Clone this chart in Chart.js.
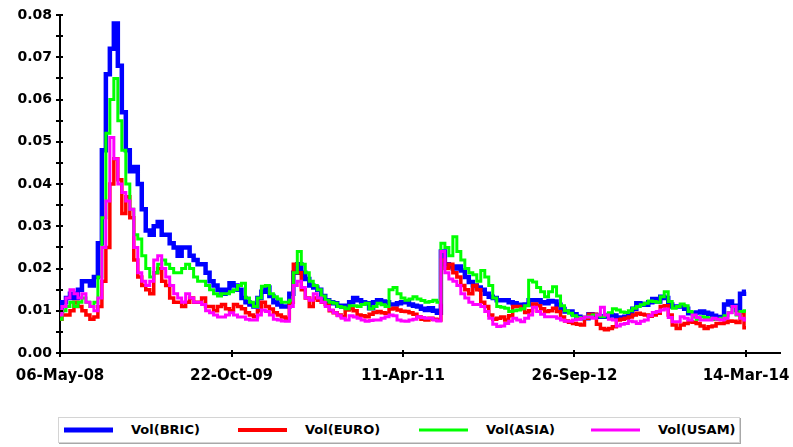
<!DOCTYPE html>
<html lang="en">
<head>
  <meta charset="UTF-8" />
  <title>Volatility - BRIC / EURO / ASIA / USAM</title>
  <script src="https://cdn.jsdelivr.net/npm/chart.js"></script>
  <style>
    body { margin: 0; background: #fff; }
    .chart-box { position: absolute; left: 0; top: 0; width: 793px; height: 400px; }
    #legend {
      position: absolute; left: 58px; top: 417px; width: 680px; height: 24px;
      border: 1px solid #d4d4d4; box-shadow: 1px 1px 0 #a8a8a8; background: #fff;
      font: bold 13px "DejaVu Sans", sans-serif; color: #000;
    }
    #legend .item { position: absolute; top: 0; height: 24px; line-height: 24px; white-space: nowrap; }
    #legend .swatch { position: absolute; left: 0; width: 49px; top: 50%; transform: translateY(-50%); }
    #legend .label { position: absolute; left: 67px; top: 0; }
  </style>
</head>
<body>

  <div class="chart-box">
    <canvas id="volChart"></canvas>
  </div>
  <div id="legend"></div>

  <script>
    // values, one point every ~4 px (≈ 12 days)
    const tickDates = ["06-May-08", "22-Oct-09", "11-Apr-11", "26-Sep-12", "14-Mar-14"];
    const seriesNames = ["Vol(BRIC)", "Vol(EURO)", "Vol(ASIA)", "Vol(USAM)"];

    const volBric = [
      0.010, 0.012, 0.013, 0.014, 0.013, 0.015, 0.017, 0.017, 0.016, 0.018,
      0.026, 0.048, 0.066, 0.072, 0.078, 0.068, 0.057, 0.048, 0.043, 0.044,
      0.040, 0.034, 0.029, 0.028, 0.030, 0.031, 0.028, 0.028, 0.026, 0.025,
      0.023, 0.025, 0.025, 0.023, 0.022, 0.021,
      0.021, 0.019, 0.017, 0.016, 0.015, 0.014, 0.015, 0.0165,
      0.016, 0.015, 0.013, 0.012, 0.0115, 0.011, 0.013, 0.0145,
      0.0155, 0.0135, 0.012, 0.0115, 0.011, 0.011, 0.014, 0.019,
      0.021, 0.019, 0.0175, 0.016, 0.0155, 0.015, 0.0135, 0.0125, 0.012, 0.0118, 0.0112, 0.011,
      0.0112, 0.012, 0.013, 0.0125, 0.012, 0.0118, 0.0106, 0.012, 0.0125, 0.0122, 0.012, 0.0115,
      0.0115, 0.0118, 0.012, 0.012, 0.0115, 0.0112, 0.011, 0.0105, 0.0102, 0.0106, 0.010, 0.0095,
      0.024, 0.021, 0.0205, 0.020, 0.0205, 0.0195, 0.018, 0.0168, 0.016, 0.0155, 0.015, 0.014,
      0.0133, 0.013, 0.0125, 0.0125, 0.0125, 0.012, 0.0118, 0.0114, 0.0114, 0.0115, 0.0125, 0.0125,
      0.0125, 0.012, 0.0118, 0.0123, 0.0122, 0.0114, 0.0104, 0.0098, 0.0098, 0.0092, 0.0086, 0.0082,
      0.0082, 0.0092, 0.009, 0.0086, 0.0086, 0.0087, 0.009, 0.0089,
      0.0082, 0.0084, 0.0086, 0.009, 0.0105, 0.0118, 0.0116, 0.0114, 0.012, 0.0128, 0.0122, 0.0133,
      0.013, 0.0115, 0.011, 0.011, 0.011, 0.0105, 0.0094, 0.0094, 0.0096, 0.0098, 0.0095, 0.0093,
      0.0088, 0.0085, 0.0082, 0.0115, 0.0122, 0.0112, 0.0102, 0.014, 0.0145
    ];

    const volEuro = [
      0.008, 0.009, 0.009, 0.010, 0.012, 0.011, 0.010, 0.009, 0.008, 0.0085,
      0.011, 0.017, 0.025, 0.040, 0.046, 0.041, 0.033, 0.037, 0.032, 0.022,
      0.018, 0.016, 0.015, 0.014, 0.019, 0.020, 0.017, 0.016, 0.013, 0.012,
      0.012, 0.011, 0.012, 0.013, 0.012, 0.012,
      0.013, 0.011, 0.011, 0.010, 0.011, 0.0115, 0.0105, 0.010,
      0.0115, 0.011, 0.0105, 0.0095, 0.009, 0.0086, 0.010, 0.012,
      0.011, 0.0104, 0.0095, 0.009, 0.0085, 0.0082, 0.012, 0.021,
      0.019, 0.015, 0.013, 0.011, 0.013, 0.0125, 0.012, 0.0115, 0.010, 0.0095, 0.009, 0.0086,
      0.0102, 0.0105, 0.010, 0.009, 0.0088, 0.0086, 0.0092, 0.0096, 0.0098, 0.0095, 0.0094, 0.0104,
      0.0106, 0.0102, 0.0099, 0.0098, 0.0095, 0.0092, 0.0086, 0.008, 0.0078, 0.0082, 0.008, 0.0078,
      0.022, 0.020, 0.021, 0.019, 0.018, 0.016, 0.015, 0.014, 0.016, 0.015, 0.012, 0.011,
      0.009, 0.008, 0.0082, 0.0085, 0.0078, 0.0088, 0.011, 0.011, 0.0105, 0.0096, 0.010, 0.0116,
      0.0112, 0.0105, 0.0098, 0.010, 0.0106, 0.0098, 0.0085, 0.0076, 0.0073, 0.007, 0.0068, 0.0066,
      0.0082, 0.0092, 0.0092, 0.0068, 0.0058, 0.0055, 0.0058, 0.0062,
      0.0078, 0.008, 0.0082, 0.0085, 0.009, 0.0094, 0.0092, 0.009, 0.0087, 0.009, 0.0094, 0.011,
      0.0112, 0.009, 0.0066, 0.0058, 0.0066, 0.007, 0.0074, 0.0073, 0.007, 0.0064, 0.0058, 0.0062,
      0.0064, 0.007, 0.007, 0.0072, 0.0076, 0.0075, 0.0072, 0.0095, 0.006
    ];

    const volAsia = [
      0.008, 0.010, 0.011, 0.012, 0.011, 0.012, 0.013, 0.012, 0.011, 0.012,
      0.018, 0.032, 0.052, 0.060, 0.065, 0.055, 0.048, 0.040, 0.034, 0.028,
      0.027, 0.023, 0.020, 0.018, 0.019, 0.021, 0.022, 0.021, 0.020, 0.019,
      0.019, 0.020, 0.021, 0.020, 0.018, 0.017,
      0.017, 0.016, 0.015, 0.014, 0.0135, 0.014, 0.014, 0.0145,
      0.015, 0.016, 0.0165, 0.013, 0.012, 0.011, 0.013, 0.0158,
      0.016, 0.014, 0.0133, 0.0128, 0.012, 0.012, 0.0125, 0.019,
      0.024, 0.021, 0.019, 0.017, 0.016, 0.015, 0.0135, 0.0125, 0.012, 0.0118, 0.011, 0.0108,
      0.0105, 0.0112, 0.0112, 0.011, 0.0115, 0.0118, 0.0105, 0.011, 0.0118, 0.0114, 0.011, 0.015,
      0.0155, 0.014, 0.013, 0.0125, 0.0128, 0.0133, 0.0128, 0.0124, 0.012, 0.0122, 0.0125, 0.012,
      0.026, 0.025, 0.023, 0.0275, 0.024, 0.022, 0.020, 0.019, 0.0185, 0.017, 0.0195, 0.018,
      0.016, 0.013, 0.011, 0.0108, 0.0106, 0.0098, 0.010, 0.0102, 0.0105, 0.0112, 0.0172, 0.0168,
      0.0155, 0.0145, 0.0133, 0.0145, 0.0157, 0.0135, 0.0112, 0.010, 0.0094, 0.0088, 0.0084, 0.0082,
      0.0085, 0.0087, 0.009, 0.0088, 0.0086, 0.009, 0.0095, 0.0105,
      0.0102, 0.0097, 0.0096, 0.010, 0.0106, 0.011, 0.0114, 0.0118, 0.0123, 0.0122, 0.012, 0.0133,
      0.0145, 0.0122, 0.0106, 0.011, 0.0116, 0.0112, 0.0098, 0.0085, 0.008, 0.0086, 0.0084, 0.0082,
      0.0079, 0.0079, 0.0082, 0.0088, 0.0096, 0.011, 0.009, 0.0098, 0.010
    ];

    const volUsam = [
      0.009, 0.011, 0.013, 0.015, 0.014, 0.013, 0.014, 0.012, 0.011, 0.010,
      0.013, 0.025, 0.036, 0.051, 0.046, 0.040, 0.038, 0.036, 0.034, 0.025,
      0.019, 0.017, 0.016, 0.017, 0.022, 0.023, 0.020, 0.018, 0.016, 0.014,
      0.013, 0.012, 0.014, 0.013, 0.012, 0.012,
      0.0115, 0.010, 0.0095, 0.009, 0.0085, 0.0085, 0.009, 0.0095,
      0.009, 0.0085, 0.0085, 0.008, 0.0078, 0.0078, 0.009, 0.0102,
      0.0098, 0.009, 0.008, 0.0078, 0.0076, 0.0075, 0.011, 0.016,
      0.017, 0.0155, 0.013, 0.0125, 0.014, 0.013, 0.012, 0.011, 0.0102, 0.0095, 0.0088, 0.0082,
      0.0078, 0.0088, 0.0085, 0.0082, 0.0078, 0.0075, 0.0077, 0.0078, 0.0078, 0.0082, 0.0086, 0.009,
      0.0088, 0.0078, 0.0076, 0.0075, 0.0078, 0.008, 0.0086, 0.0084, 0.0082, 0.0082, 0.0078, 0.0076,
      0.024, 0.019, 0.0175, 0.017, 0.016, 0.014, 0.013, 0.012, 0.0115, 0.0115, 0.011, 0.0098,
      0.0082, 0.0068, 0.0063, 0.0064, 0.007, 0.0075, 0.0082, 0.0078, 0.0074, 0.0082, 0.009, 0.0108,
      0.0098, 0.0092, 0.0086, 0.0086, 0.0086, 0.0082, 0.0078, 0.0075, 0.0075, 0.0078, 0.008, 0.0082,
      0.0085, 0.0085, 0.0082, 0.009, 0.0108, 0.009, 0.008, 0.0078,
      0.0064, 0.0068, 0.007, 0.0076, 0.0074, 0.007, 0.0075, 0.0078, 0.0088, 0.0096, 0.0098, 0.0102,
      0.0104, 0.0084, 0.0074, 0.0074, 0.0086, 0.0082, 0.0078, 0.009, 0.0084, 0.0078, 0.0078, 0.0078,
      0.0082, 0.008, 0.0078, 0.0082, 0.0095, 0.011, 0.0092, 0.0082, 0.0078
    ];

    const lastIdx = volBric.length - 1;
    // the date labels sit at equal steps of the index range; the axis runs a bit past the last one
    const tickIdx = tickDates.map((d, i) => lastIdx * i / (tickDates.length - 1));
    const xMax = lastIdx * 720 / 686;

    const colors = ['#0000ff', '#ff0000', '#00ff00', '#ff00ff'];
    const widths = [4.5, 3.5, 3, 3];
    const legendHeights = [5, 4, 3, 3];
    const allSeries = [volBric, volEuro, volAsia, volUsam];

    // tick marks that cross the axis line, like the original
    const crossTicks = {
      id: 'crossTicks',
      afterDraw(chart) {
        const { ctx, scales: { x, y } } = chart;
        ctx.save();
        ctx.strokeStyle = '#000';
        ctx.lineWidth = 2;
        y.ticks.forEach(t => {
          const py = Math.round(y.getPixelForValue(t.value));
          ctx.beginPath();
          ctx.moveTo(y.right - 4, py);
          ctx.lineTo(y.right + 3, py);
          ctx.stroke();
        });
        x.ticks.forEach(t => {
          const px = Math.round(x.getPixelForValue(t.value));
          ctx.beginPath();
          ctx.moveTo(px, x.top - 3);
          ctx.lineTo(px, x.top + 4);
          ctx.stroke();
        });
        ctx.restore();
      }
    };

    const ctx = document.getElementById('volChart').getContext('2d');
    new Chart(ctx, {
      type: 'line',
      data: {
        datasets: allSeries.map((vals, s) => ({
          label: seriesNames[s],
          data: vals.map((v, i) => ({ x: i, y: v })),
          borderColor: colors[s],
          borderWidth: widths[s],
          pointRadius: 0,
          stepped: 'middle',
          fill: false,
          order: allSeries.length - s   // later series drawn on top
        }))
      },
      options: {
        responsive: true,
        maintainAspectRatio: false,
        animation: false,
        layout: { padding: { top: 15, right: 13, left: 0, bottom: 0 } },
        plugins: {
          legend: { display: false },
          tooltip: { enabled: false }
        },
        scales: {
          x: {
            type: 'linear',
            min: 0,
            max: xMax,
            grid: { display: false, drawTicks: false },
            border: { display: true, color: '#000', width: 2 },
            afterBuildTicks: scale => { scale.ticks = tickIdx.map(v => ({ value: v })); },
            afterFit: scale => {
              scale.height = 47;
              scale.paddingLeft = 0;
              scale.paddingRight = 0;
            },
            ticks: {
              autoSkip: false,
              maxRotation: 0,
              padding: 14,
              color: '#000',
              font: { family: 'DejaVu Sans', size: 15, weight: 'bold' },
              callback: (value, i) => tickDates[i]
            }
          },
          y: {
            min: 0,
            max: 0.08,
            grid: { display: false, drawTicks: false },
            border: { display: true, color: '#000', width: 2 },
            afterFit: scale => {
              scale.width = 60;
              scale.paddingTop = 0;
              scale.paddingBottom = 0;
            },
            ticks: {
              stepSize: 0.005,
              autoSkip: false,
              padding: 8,
              color: '#000',
              font: { family: 'DejaVu Sans', size: 14, weight: 'bold' },
              callback: v => (Math.round(v * 200) % 2 === 0 ? v.toFixed(2) : '')
            }
          }
        }
      },
      plugins: [crossTicks]
    });

    // boxed legend under the plot
    const legendLefts = [5, 179, 360, 532];
    const legend = document.getElementById('legend');
    seriesNames.forEach((name, s) => {
      const item = document.createElement('div');
      item.className = 'item';
      item.style.left = legendLefts[s] + 'px';
      const sw = document.createElement('span');
      sw.className = 'swatch';
      sw.style.background = colors[s];
      sw.style.height = legendHeights[s] + 'px';
      const lab = document.createElement('span');
      lab.className = 'label';
      lab.textContent = name;
      item.appendChild(sw);
      item.appendChild(lab);
      legend.appendChild(item);
    });
  </script>
</body>
</html>
